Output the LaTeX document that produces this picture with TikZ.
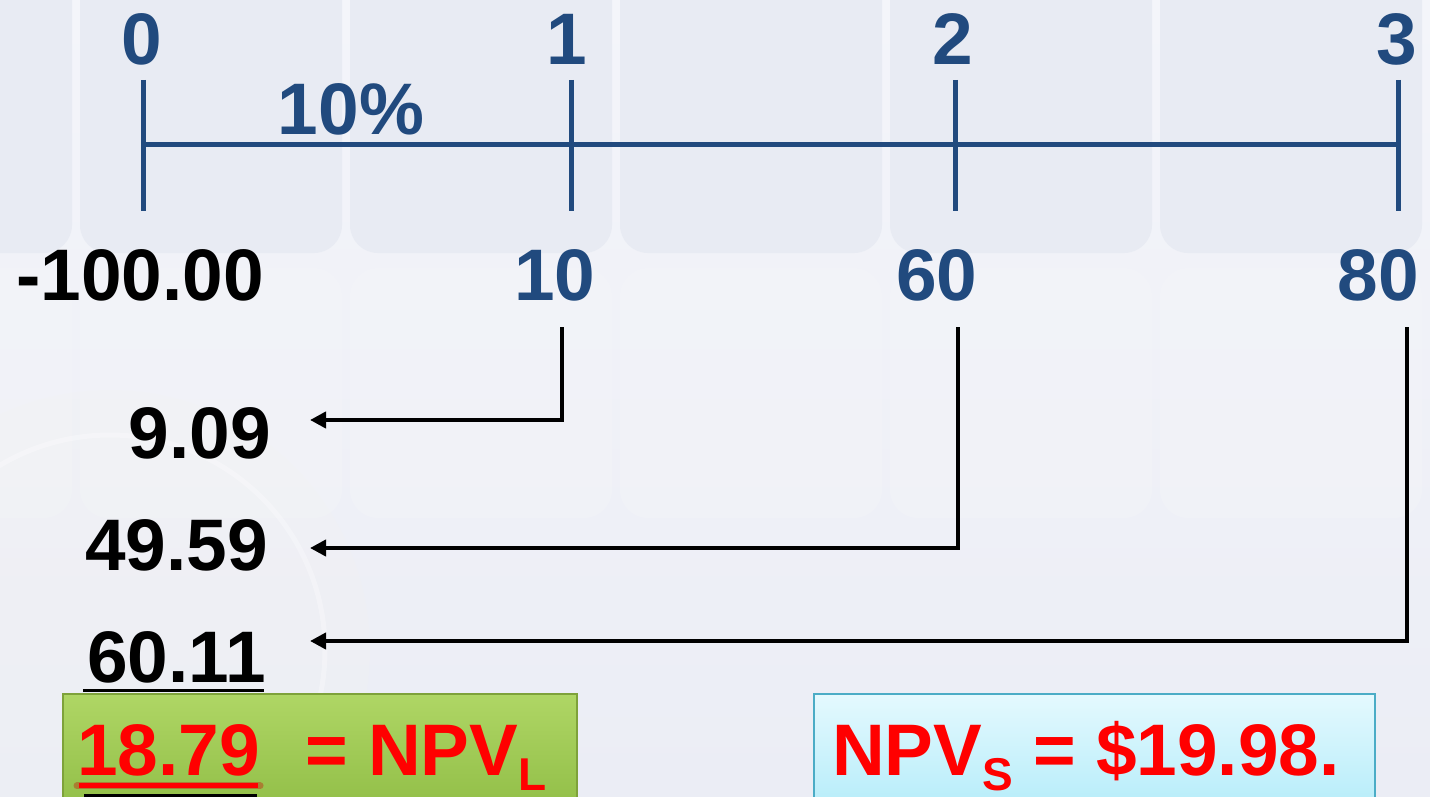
\documentclass[tikz,border=0pt]{standalone}
\usepackage{fontspec}
\setmainfont{Liberation Sans}
\usetikzlibrary{arrows.meta}
\definecolor{tlblue}{HTML}{214A7E}
\definecolor{npvred}{HTML}{FF0000}
\definecolor{bgtop}{HTML}{F4F5FA}
\definecolor{bgmid}{HTML}{FCFCFD}
\definecolor{bgbot}{HTML}{EBEDF5}
\definecolor{tileA}{HTML}{E8EBF3}
\definecolor{tileB}{HTML}{F3F4F8}
\definecolor{greentop}{HTML}{AFD665}
\definecolor{greenbot}{HTML}{86B53C}
\definecolor{greenline}{HTML}{7EA23A}
\definecolor{cyantop}{HTML}{E4F9FE}
\definecolor{cyanbot}{HTML}{A4E8F8}
\definecolor{cyanline}{HTML}{4BACC6}
\begin{document}
\begin{tikzpicture}[x=1pt,y=1pt,
  big/.style={font=\fontsize{73}{80}\selectfont\bfseries, inner sep=0pt},
  bluelbl/.style={big, text=tlblue},
  blacklbl/.style={big, text=black},
  redlbl/.style={big, text=npvred},
  axis/.style={draw=tlblue, line width=5pt},
  conn/.style={draw=black, line width=4.5pt, -{Triangle[length=16pt,width=16pt]}},
  tile/.style={rounded corners=28pt},
]
\useasboundingbox (0,0) rectangle (1430,-797);
\clip (0,0) rectangle (1430,-797);
% background
\shade[top color=bgtop, middle color=bgmid, bottom color=bgbot] (0,0) rectangle (1430,-797);
\foreach \x in {-190,80,350,620,890,1160} {
  \fill[tileA, tile] (\x,40) rectangle ++(262,-293);
  \fill[tileB, tile, opacity=0.5] (\x,-268) rectangle ++(262,-250);
}
% faint seal
\fill[gray!10, opacity=0.25] (110,-650) circle (260);
\draw[white, opacity=0.3, line width=5pt] (110,-650) circle (215);

% timeline
\coordinate (p0) at (143,-145);
\coordinate (p1) at (571,-145);
\coordinate (p2) at (955,-145);
\coordinate (p3) at (1398,-145);
\draw[axis] (p0) -- (p3);
\foreach \p in {p0,p1,p2,p3} {
  \draw[axis] ([yshift=65pt]\p) -- ([yshift=-66pt]\p);
}
\node[bluelbl, anchor=base] (t0) at (142,-65) {0};
\node[bluelbl, anchor=base] (t1) at (567,-65) {1};
\node[bluelbl, anchor=base] (t2) at (953,-65) {2};
\node[bluelbl, anchor=base] (t3) at (1397,-65) {3};
\node[bluelbl, anchor=base] (rate) at (351,-135) {10\%};

% cash flows
\node[blacklbl, anchor=base] (c0) at (140,-300) {-100.00};
\node[bluelbl, anchor=base] (c1) at (555,-300) {10};
\node[bluelbl, anchor=base] (c2) at (937,-300) {60};
\node[bluelbl, anchor=base] (c3) at (1378,-300) {80};

% present values
\node[blacklbl, anchor=base east] (v1) at (271,-458) {9.09};
\node[blacklbl, anchor=base east] (v2) at (268,-570) {49.59};
\node[blacklbl, anchor=base east] (v3) at (266,-682) {60.11};
\draw[black, line width=3pt] ([xshift=-4pt,yshift=-8pt]v3.south west) -- ([xshift=-2pt,yshift=-8pt]v3.south east);

% connectors
\coordinate (s1) at (562,-327);
\coordinate (s2) at (958,-327);
\coordinate (s3) at (1407,-327);
\coordinate (e1) at (310,-420);
\coordinate (e2) at (310,-548);
\coordinate (e3) at (310,-641);
\draw[conn] (s1) |- (e1);
\draw[conn] (s2) |- (e2);
\draw[conn] (s3) |- (e3);

% NPV L box
\node[draw=greenline, line width=1.5pt, top color=greentop, bottom color=greenbot,
      minimum width=514pt, minimum height=160pt, inner sep=0pt, anchor=north west] (gbox) at (62,-693) {};
\node[redlbl, anchor=base west] (npvl) at (77,-775) {18.79};
\node[redlbl, anchor=base west] (npvlr) at (305,-775) {= NPV\raisebox{-15pt}{\fontsize{46}{46}\selectfont L}};
\draw[red!80!black, line width=7pt, line cap=round, opacity=0.35] ([yshift=-10pt]npvl.south west) -- ([yshift=-10pt]npvl.south east);
\draw[npvred, line width=5pt] ([xshift=2pt,yshift=-10pt]npvl.south west) -- ([xshift=-2pt,yshift=-10pt]npvl.south east);
\draw[black, line width=4pt] ([xshift=7pt,yshift=-20pt]npvl.south west) -- ([xshift=-3pt,yshift=-20pt]npvl.south east);

% NPV S box
\node[draw=cyanline, line width=2pt, top color=cyantop, bottom color=cyanbot,
      minimum width=561pt, minimum height=160pt, inner sep=0pt, anchor=north west] (sbox) at (813,-693) {};
\node[redlbl, anchor=base west] (npvs) at (832,-775) {NPV\raisebox{-15pt}{\fontsize{46}{46}\selectfont S} = \$19.98.};
\end{tikzpicture}
\end{document}
